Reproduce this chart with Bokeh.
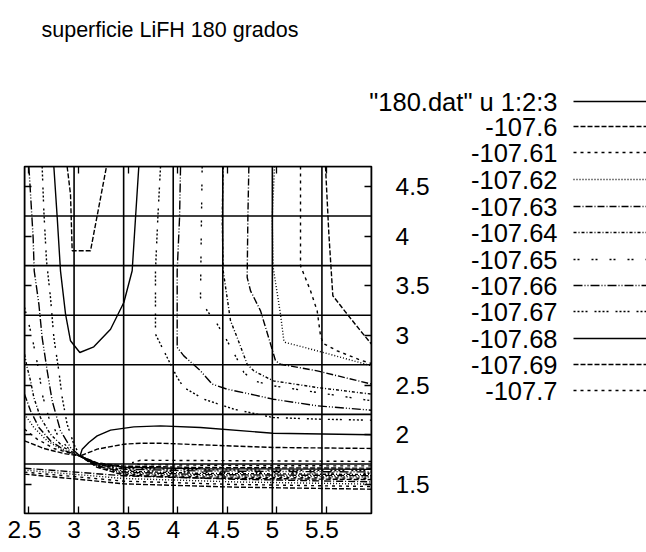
from bokeh.plotting import figure
from bokeh.models import Range1d, LinearAxis, FixedTicker, GridBox
from bokeh.core.properties import value
from bokeh.embed import file_html
from bokeh.resources import INLINE

TITLE = "superficie LiFH 180 grados"
SURFACE_KEY = '"180.dat" u 1:2:3'
FONT = "Liberation Sans"
W, H = 646, 552

# sample rows/columns of the surface file (drawn as the map mesh)
mesh_x = [2.5, 3.0, 3.5, 4.0, 4.5, 5.0, 5.5, 6.0]
mesh_y = [1.0, 1.5, 2.0, 2.5, 3.0, 3.5, 4.0, 4.5]

x_ticks = [2.5, 3.0, 3.5, 4.0, 4.5, 5.0, 5.5]
x_tick_labels = ["2.5", "3", "3.5", "4", "4.5", "5", "5.5"]
y_ticks = [1.5, 2.0, 2.5, 3.0, 3.5, 4.0, 4.5]
y_tick_labels = ["1.5", "2", "2.5", "3", "3.5", "4", "4.5"]

levels = [-107.6, -107.61, -107.62, -107.63, -107.64, -107.65,
          -107.66, -107.67, -107.68, -107.69, -107.7]
level_dash = ["5 2", "3 4", "1 2", "7 2 1 2", "3 2 1 2", "2 2 2 12",
              "9 2 1 2 1 2", "2 2 2 2 2 2 2 7", "solid", "5 2", "3 4"]

# contour pieces per level: (xs, ys)
c_600 = [
    ([5.536, 5.570, 5.610, 5.755, 5.889, 6.0],
     [4.5, 3.818, 3.196, 3.011, 2.843, 2.708]),
    ([2.5, 2.695, 2.897, 3.06, 3.233, 3.502, 4.275, 6.0],
     [1.733, 1.656, 1.605, 1.58, 1.466, 1.387, 1.358, 1.342]),
    ([2.5, 3.065, 3.502, 4.612, 6.0],
     [1.397, 1.343, 1.299, 1.266, 1.245]),
]
c_610 = [
    ([5.284, 5.284, 5.385, 5.452, 5.486, 5.513, 5.654, 5.889, 6.0],
     [4.5, 3.498, 3.246, 3.044, 2.792, 2.715, 2.641, 2.547, 2.513]),
    ([2.5, 2.628, 2.796, 3.06, 3.233, 3.502, 4.275, 6.0],
     [1.851, 1.750, 1.656, 1.58, 1.471, 1.397, 1.370, 1.355]),
    ([2.5, 3.065, 3.502, 4.612, 6.0],
     [1.417, 1.367, 1.326, 1.293, 1.272]),
]
c_620 = [
    ([5.022, 4.998, 5.008, 5.082, 5.116, 5.133, 5.452, 5.721, 6.0],
     [4.5, 3.986, 3.482, 3.011, 2.742, 2.725, 2.641, 2.567, 2.490]),
    ([2.5, 2.594, 2.729, 2.897, 3.06, 3.233, 3.502, 4.275, 6.0],
     [2.002, 1.868, 1.733, 1.632, 1.58, 1.476, 1.407, 1.382, 1.368]),
    ([2.5, 3.065, 3.502, 4.612, 6.0],
     [1.437, 1.390, 1.353, 1.319, 1.296]),
]
c_630 = [
    ([4.763, 4.753, 4.746, 4.780, 4.881, 4.982, 5.032, 5.082, 5.452, 6.0],
     [4.5, 3.986, 3.381, 3.246, 3.044, 2.708, 2.540, 2.506, 2.439, 2.305]),
    ([2.5, 2.561, 2.645, 2.762, 2.914, 3.06, 3.233, 3.502, 4.275, 6.0],
     [2.204, 2.036, 1.868, 1.733, 1.632, 1.58, 1.481, 1.417, 1.393, 1.381]),
    ([2.5, 3.065, 3.502, 4.612, 6.0],
     [1.457, 1.414, 1.380, 1.346, 1.319]),
]
c_640 = [
    ([4.504, 4.494, 4.504, 4.578, 4.645, 4.746, 4.813, 5.008, 5.452, 6.0],
     [4.5, 3.986, 3.448, 2.944, 2.775, 2.506, 2.439, 2.338, 2.271, 2.204]),
    ([2.5, 2.527, 2.561, 2.594, 2.661, 2.762, 2.897, 3.06, 3.233, 3.502, 4.275, 6.0],
     [2.607, 2.473, 2.338, 2.170, 1.968, 1.800, 1.666, 1.58, 1.486, 1.427, 1.405, 1.393]),
]
c_650 = [
    ([4.292, 4.285, 4.275, 4.343, 4.444, 4.544, 4.645, 4.713, 4.813, 5.008, 5.452, 6.0],
     [4.5, 3.986, 3.179, 3.044, 2.910, 2.742, 2.557, 2.422, 2.338, 2.288, 2.221, 2.137]),
    ([2.5, 2.544, 2.577, 2.611, 2.645, 2.678, 2.745, 2.846, 2.964, 3.06, 3.233, 3.502, 4.275, 6.0],
     [3.078, 2.910, 2.775, 2.607, 2.439, 2.204, 1.968, 1.767, 1.632, 1.58, 1.491, 1.437, 1.417, 1.406]),
]
c_660 = [
    ([4.074, 4.064, 4.040, 4.040, 4.107, 4.275, 4.393, 4.544, 4.780, 5.008, 5.452, 6.0],
     [4.5, 3.986, 3.448, 2.675, 2.590, 2.439, 2.305, 2.254, 2.204, 2.153, 2.086, 2.042]),
    ([2.544, 2.561, 2.587, 2.598, 2.645, 2.678, 2.729, 2.779, 2.863, 2.964, 3.06, 3.233, 3.502, 4.275, 6.0],
     [4.5, 4.221, 3.784, 3.448, 3.112, 2.775, 2.439, 2.137, 1.834, 1.666, 1.58, 1.496, 1.447, 1.429, 1.419]),
]
c_670 = [
    ([3.872, 3.845, 3.821, 3.821, 3.973, 4.040, 4.107, 4.309, 4.612, 5.008, 5.452, 6.0],
     [4.5, 3.986, 3.448, 2.809, 2.506, 2.372, 2.271, 2.153, 2.052, 1.968, 1.952, 1.941]),
    ([2.678, 2.695, 2.722, 2.762, 2.796, 2.846, 2.880, 2.930, 2.998, 3.06, 3.233, 3.502, 4.275, 6.0],
     [4.5, 4.053, 3.549, 3.179, 2.775, 2.439, 2.170, 1.901, 1.699, 1.58, 1.501, 1.457, 1.441, 1.432]),
]
c_680 = [
    ([2.796, 2.830, 2.863, 2.914, 2.964, 3.058, 3.199, 3.368, 3.502, 3.586, 3.620, 3.653],
     [4.5, 3.986, 3.448, 3.011, 2.742, 2.624, 2.681, 2.859, 3.128, 3.448, 3.986, 4.5]),
    ([6.0, 5.008, 4.275, 3.872, 3.603, 3.368, 3.233, 3.149, 3.082, 3.06, 3.233, 3.502, 4.275, 6.0],
     [1.794, 1.810, 1.868, 1.884, 1.874, 1.841, 1.783, 1.716, 1.649, 1.58, 1.506, 1.467, 1.452, 1.445]),
]
c_690 = [
    ([2.930, 2.964, 2.981, 3.166, 3.327],
     [4.5, 4.221, 3.650, 3.650, 4.5]),
    ([6.0, 5.008, 4.275, 3.872, 3.670, 3.502, 3.233, 3.06, 3.233, 3.502, 4.275, 6.0],
     [1.656, 1.666, 1.693, 1.709, 1.709, 1.699, 1.649, 1.58, 1.511, 1.478, 1.464, 1.457]),
]
c_700 = [
    ([6.0, 4.948, 3.670, 3.586, 3.670, 4.948, 6.0],
     [1.525, 1.531, 1.537, 1.512, 1.492, 1.482, 1.480]),
]
contour_sets = [c_600, c_610, c_620, c_630, c_640, c_650,
                c_660, c_670, c_680, c_690, c_700]

# projection offsets of the tic marks relative to the surface mesh
X_TIC_SHIFT = 0.045
Y_TIC_SHIFT = 0.205

# ---------------------------------------------------------------- plot layer
p = figure(width=W, height=H,
           x_range=Range1d(mesh_x[0], mesh_x[-1]),
           y_range=Range1d(mesh_y[0], mesh_y[-1]),
           x_axis_location=None, y_axis_location=None,
           output_backend="svg", toolbar_location=None,
           min_border_left=24, min_border_right=275,
           min_border_top=166, min_border_bottom=39,
           frame_align=False)
p.xgrid.visible = False
p.ygrid.visible = False
p.outline_line_color = "black"
p.outline_line_width = 1.6
p.background_fill_alpha = 0
p.border_fill_alpha = 0

p.extra_x_ranges = {"xt": Range1d(mesh_x[0] - X_TIC_SHIFT, mesh_x[-1] - X_TIC_SHIFT)}
p.extra_y_ranges = {"yt": Range1d(mesh_y[0] + Y_TIC_SHIFT, mesh_y[-1] + Y_TIC_SHIFT)}


def tic_axis(ticks, **kw):
    # inward tic marks only; the labels of these axes are never painted
    return LinearAxis(ticker=FixedTicker(ticks=ticks),
                      major_label_overrides={t: "" for t in ticks},
                      major_tick_in=7, major_tick_out=0,
                      minor_tick_in=0, minor_tick_out=0,
                      minor_tick_line_color=None,
                      axis_line_color=None,
                      major_tick_line_color="black", major_tick_line_width=1.3,
                      major_label_text_color=None,
                      major_label_standoff=0,
                      **kw)


# mirrored tic marks on bottom, top and left
p.add_layout(tic_axis(x_ticks, x_range_name="xt"), "below")
p.add_layout(tic_axis(x_ticks, x_range_name="xt"), "above")
p.add_layout(tic_axis(y_ticks, y_range_name="yt"), "left")

# x tic labels
xlab = LinearAxis(ticker=FixedTicker(ticks=x_ticks),
                  major_label_overrides=dict(zip(x_ticks, x_tick_labels)),
                  major_tick_in=0, major_tick_out=0, major_tick_line_color=None,
                  minor_tick_line_color=None, axis_line_color=None,
                  major_label_standoff=7,
                  major_label_text_font=FONT, major_label_text_font_size="24.5px",
                  major_label_text_color="black")
p.add_layout(xlab, "below")

# y tic labels (right side) with inward tics
ylab = LinearAxis(y_range_name="yt", ticker=FixedTicker(ticks=y_ticks),
                  major_label_overrides=dict(zip(y_ticks, y_tick_labels)),
                  major_tick_in=7, major_tick_out=0,
                  major_tick_line_color="black", major_tick_line_width=1.3,
                  minor_tick_line_color=None, axis_line_color=None,
                  major_label_standoff=24,
                  major_label_text_font=FONT, major_label_text_font_size="24.5px",
                  major_label_text_color="black")
p.add_layout(ylab, "right")

# surface mesh
mesh_xs = [[x, x] for x in mesh_x] + [[mesh_x[0], mesh_x[-1]] for _ in mesh_y]
mesh_ys = [[mesh_y[0], mesh_y[-1]] for _ in mesh_x] + [[y, y] for y in mesh_y]
p.multi_line(mesh_xs, mesh_ys, line_color="black", line_width=1.6)

# contour lines, one renderer per level
for pieces, dash in zip(contour_sets, level_dash):
    p.multi_line([pc[0] for pc in pieces], [pc[1] for pc in pieces],
                 line_color="black", line_width=1.4, line_dash=dash)

# --------------------------------------------------- page layer: title + key
# pixel space of the whole page, origin top-left
page = figure(width=W, height=H, x_range=Range1d(0, W), y_range=Range1d(H, 0),
              x_axis_location=None, y_axis_location=None,
              output_backend="svg", toolbar_location=None,
              min_border=0, frame_align=False)
page.xgrid.visible = False
page.ygrid.visible = False
page.outline_line_color = None
page.background_fill_color = "white"
page.border_fill_color = "white"

page.text(x=[41], y=[29.5], text=[TITLE], text_align="left",
          text_baseline="alphabetic", text_font=value(FONT),
          text_font_size=value("21.5px"), text_color="black")

key_texts = [SURFACE_KEY] + [str(v) for v in levels]
key_dash = ["solid"] + level_dash
key_width = [1.6] + [1.4] * len(levels)
key_rows = [101, 126, 152, 179, 206, 232, 259, 285, 311, 338, 364, 390]
KEY_TEXT_RIGHT = 557
KEY_LINE = (573, 646)

page.text(x=[KEY_TEXT_RIGHT] * len(key_texts), y=key_rows, text=key_texts,
          text_align="right", text_baseline="middle", text_font=value(FONT),
          text_font_size=value("25.5px"), text_color="black")
for yk, dash, lw in zip(key_rows, key_dash, key_width):
    page.line(x=list(KEY_LINE), y=[yk, yk], line_color="black",
              line_width=lw, line_dash=dash)

# the plot layer sits on top of the page layer in the same grid cell
layout = GridBox(children=[(page, 0, 0), (p, 0, 0)], width=W, height=H)

open("out.html", "w").write(file_html(layout, INLINE))
